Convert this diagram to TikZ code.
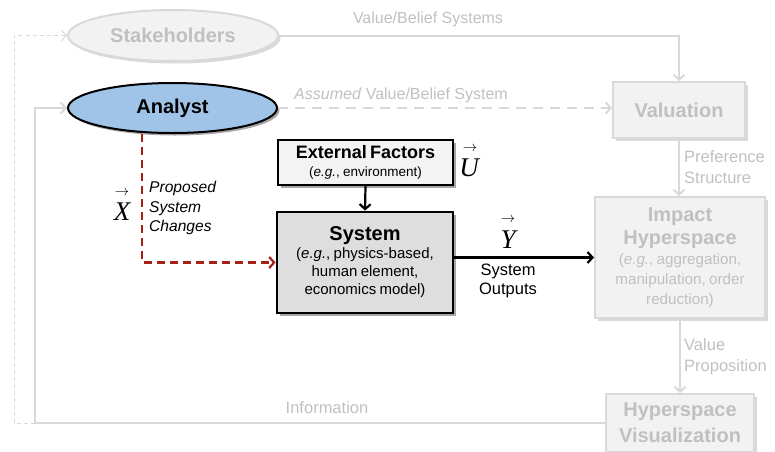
\documentclass[tikz,border=0pt]{standalone}
\usepackage{fontspec}
\setmainfont{Liberation Sans}
\newfontfamily\timesit{Liberation Serif}
\usetikzlibrary{shapes.geometric,arrows.meta,shadows}
\definecolor{lightline}{RGB}{217,217,217}
\definecolor{ghostfill}{RGB}{242,242,242}
\definecolor{ghosttext}{RGB}{192,192,192}
\definecolor{analystblue}{RGB}{160,196,232}
\definecolor{sysgray}{RGB}{222,222,222}
\definecolor{extgray}{RGB}{243,243,243}
\definecolor{darkred}{RGB}{165,32,22}
\begin{document}
\begin{tikzpicture}[x=1pt,y=-1pt,
  ghostline/.style={draw=lightline, line width=2pt},
  ghostarrow/.style={ghostline, -{Straight Barb[length=5pt,width=11pt]}},
  ghostdashed/.style={ghostarrow, dash pattern=on 10pt off 7pt},
  thindashed/.style={draw=lightline, line width=1pt, dash pattern=on 4pt off 3pt, -{Straight Barb[length=5pt,width=11pt]}},
  blackarrow/.style={draw=black, line width=2.2pt, -{Straight Barb[length=5pt,width=11pt]}},
  reddashed/.style={draw=darkred, line width=2.2pt, dash pattern=on 8pt off 5pt, -{Straight Barb[length=5pt,width=11pt]}},
  ghostbox/.style={draw=lightline, line width=2pt, fill=ghostfill, text=ghosttext,
    drop shadow={shadow xshift=2.5pt, shadow yshift=-2.5pt, fill=black, opacity=0.15}, inner sep=0pt},
  blackshadow/.style={drop shadow={shadow xshift=2.5pt, shadow yshift=-2.5pt, fill=black, opacity=0.35}},
  oval/.style={ellipse, inner sep=0pt, minimum width=209pt, minimum height=50pt},
  glabel/.style={text=ghosttext, inner sep=0pt, font=\fontsize{16}{20}\selectfont},
  blabel/.style={text=black, inner sep=0pt},
  vecletter/.style={inner sep=0pt, font=\fontsize{27}{27}\selectfont\timesit\itshape},
  vecarrow/.style={inner sep=0pt, font=\fontsize{14}{14}\selectfont}
]
\useasboundingbox (0,0) rectangle (775,451);

% nodes
\node[oval, ghostbox, font=\fontsize{20}{22}\selectfont\bfseries, minimum width=210pt, minimum height=51pt] (Stakeholders) at (173,35.5) {Stakeholders};
\node[oval, draw=black, line width=2pt, fill=analystblue, blackshadow, font=\fontsize{20}{22}\selectfont\bfseries] (Analyst) at (172.5,108) {Analyst};
\node[ghostbox, rectangle, minimum width=132pt, minimum height=56pt, font=\fontsize{20}{22}\selectfont\bfseries] (Valuation) at (679,110) {Valuation};
\node[ghostbox, rectangle, minimum width=170pt, minimum height=121pt, text width=166pt, align=center] (Impact) at (680,257.5)
  {\fontsize{20}{23}\selectfont\bfseries Impact\\Hyperspace\par
   \fontsize{15.2}{20}\selectfont\mdseries(\textit{e.g.}, aggregation,\\ manipulation, order\\ reduction)\par};
\node[ghostbox, rectangle, minimum width=148pt, minimum height=58pt, text width=146pt, align=center, font=\fontsize{20}{26}\selectfont\bfseries] (HV) at (680,423) {Hyperspace\\Visualization};
\node[rectangle, draw=black, line width=2pt, fill=extgray, blackshadow, minimum width=175pt, minimum height=45pt, text width=173pt, align=center, inner sep=0pt] (External) at (365.5,162.5)
  {\fontsize{18}{18}\selectfont\bfseries External Factors\par
   \fontsize{13.5}{18}\selectfont\mdseries(\textit{e.g.}, environment)\par};
\node[rectangle, draw=black, line width=2.8pt, fill=sysgray, blackshadow, minimum width=176pt, minimum height=101pt, text width=172pt, align=center, inner sep=0pt] (System) at (365,262.5)
  {\fontsize{20}{22}\selectfont\bfseries System\par
   \fontsize{15}{18}\selectfont\mdseries(\textit{e.g.}, physics-based,\\ human element,\\ economics model)\par};

% coordinates
\coordinate (dashx) at (14,0);
\coordinate (infox) at (35,0);
\coordinate (redx) at (142,0);

% connectors
\draw[ghostarrow] (Stakeholders.east) -| (Valuation.north);
\draw[ghostdashed] (Analyst.east) -- (Analyst.east -| Valuation.west);
\draw[ghostarrow] (Valuation.south) -- (Valuation.south |- Impact.north);
\draw[ghostarrow] (Impact.south) -- (Impact.south |- HV.north);
\draw[ghostarrow] (HV.west) -- (HV.west -| infox) |- (Analyst.west);
\draw[thindashed] (HV.west -| infox) -- (HV.west -| dashx) |- (Stakeholders.west);
\draw[blackarrow] (External.south) -- (System.north);
\draw[blackarrow] (Impact.west -| System.east) -- (Impact.west);
\draw[reddashed] (redx |- Analyst.south) |- (System.west);

% labels
\node[glabel] (vbs) at (428,19) {Value/Belief Systems};
\node[glabel] (abs) at (401,95) {\textit{Assumed} Value/Belief System};
\node[glabel, anchor=west, align=left, font=\fontsize{16.5}{21}\selectfont] (pref) at (684,167) {Preference\\Structure};
\node[glabel, anchor=west, align=left, font=\fontsize{16.5}{21}\selectfont] (vprop) at (684,357) {Value\\Proposition};
\node[glabel, font=\fontsize{16.5}{20}\selectfont] (info) at (327,408) {Information};
\node[blabel, anchor=west, align=left, font=\fontsize{15.6}{19.5}\selectfont\itshape] (psc) at (149,208) {Proposed\\System\\Changes};
\node[blabel, align=center, font=\fontsize{16.5}{19}\selectfont] (sysout) at (508,281) {System\\Outputs};
\node[vecletter] (xvec) at (122,212) {X};
\node[vecarrow] (xarr) at (122,193) {$\rightarrow$};
\node[vecletter] (uvec) at (469,168) {U};
\node[vecarrow] (uarr) at (470,149) {$\rightarrow$};
\node[vecletter] (yvec) at (508,240) {Y};
\node[vecarrow] (yarr) at (508,220) {$\rightarrow$};
\end{tikzpicture}
\end{document}
